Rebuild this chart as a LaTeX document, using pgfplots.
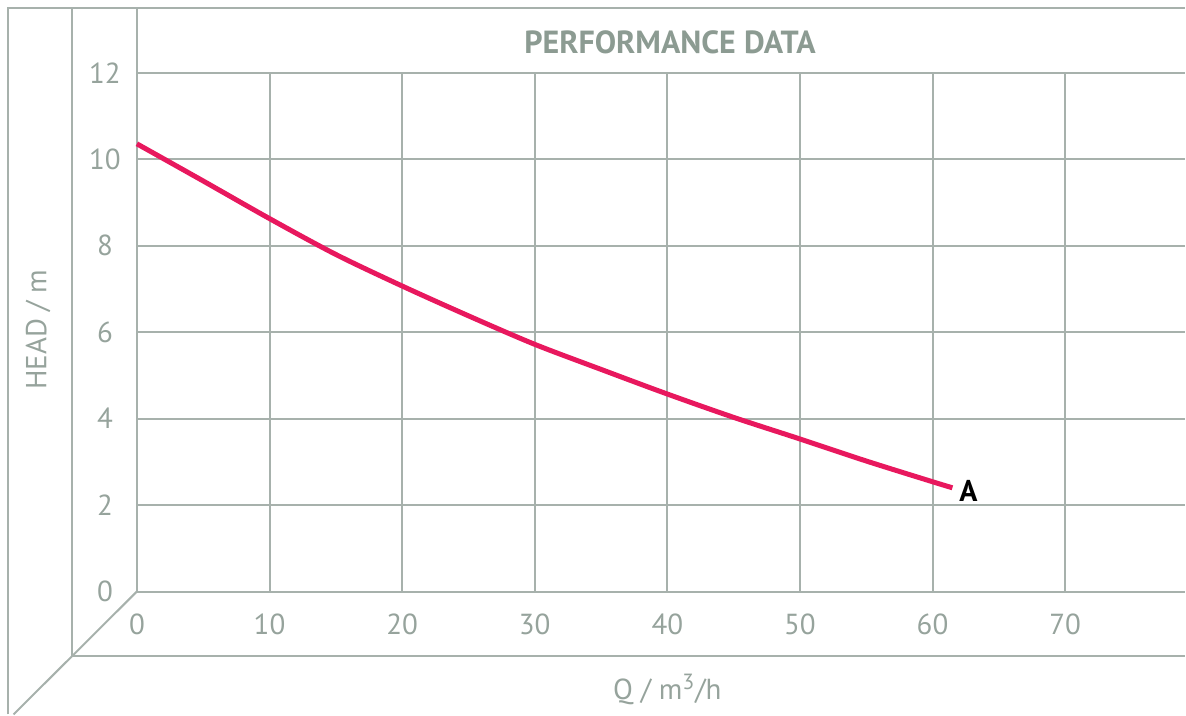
\documentclass[border=0pt]{standalone}
\usepackage{pgfplots}
\pgfplotsset{compat=1.18}
\usepackage{fontspec}
\setmainfont{PT Sans}
\definecolor{gridc}{HTML}{A7B1AC}
\definecolor{labc}{HTML}{96A39C}
\definecolor{titc}{HTML}{8C9B92}
\definecolor{curvec}{HTML}{E8185E}
\begin{document}
\begin{tikzpicture}
\begin{axis}[
  scale only axis, width=524.5pt, height=259.5pt,
  xmin=0, xmax=79.04, ymin=0, ymax=12,
  xtick={0,10,...,70}, ytick={0,2,...,12},
  grid=major, grid style={gridc, line width=1pt},
  axis line style={draw=none},
  major tick length=0pt,
  tick label style={font=\fontsize{14.5}{16}\selectfont, text=labc},
  /pgf/number format/assume math mode=true,
  xticklabel style={anchor=center, yshift=-16.5pt},
  yticklabel style={anchor=center, xshift=-16pt},
  clip=false,
]
% frame
\draw[gridc, line width=1pt] (axis cs:0,12) -- (axis cs:0,13.503);
\draw[gridc, line width=1pt] (axis cs:-9.72,-2.844) -- (axis cs:-9.72,13.503) -- (axis cs:79.04,13.503);
\draw[gridc, line width=1pt] (axis cs:-4.898,13.503) -- (axis cs:-4.898,-1.503) -- (axis cs:79.04,-1.503);
\draw[gridc, line width=1pt] (axis cs:0,0) -- (axis cs:-9.30,-2.844);
\path (axis cs:-10.324,13.688) rectangle (axis cs:79.04,-2.844);

% curve A
\addplot[curvec, line width=2.5pt, smooth] coordinates {
  (0,10.36) (5,9.50) (10,8.63) (15,7.80) (20,7.07) (25,6.38)
  (30,5.72) (35,5.14) (40,4.57) (45,4.03) (50,3.53) (55,3.02)
  (60,2.54) (61.5,2.40)
};

\node[font=\fontsize{15}{17}\selectfont\bfseries, text=black] at (axis cs:62.7,2.32) {A};
\node[font=\fontsize{16}{18}\selectfont\bfseries, text=titc] at (axis cs:40.2,12.72) {PERFORMANCE DATA};
\node[font=\fontsize{14.5}{16}\selectfont, text=labc] at (axis cs:40.0,-2.266) {Q / m\textsuperscript{\fontsize{11}{12}\selectfont 3}/h};
\node[font=\fontsize{14.5}{16}\selectfont, text=labc, rotate=90] at (axis cs:-7.46,6.06) {HEAD / m};
\end{axis}
\end{tikzpicture}
\end{document}
